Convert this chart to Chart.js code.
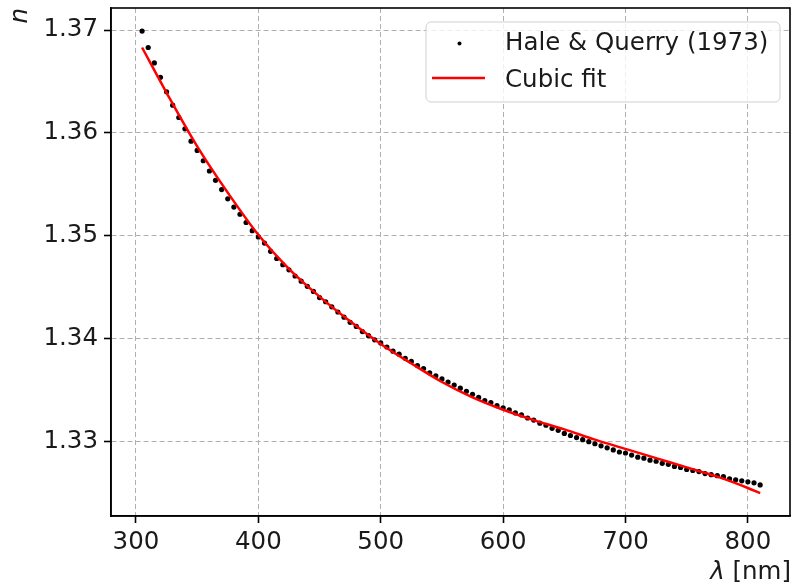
<!DOCTYPE html>
<html>
<head>
<meta charset="utf-8">
<script src="https://cdn.jsdelivr.net/npm/chart.js@4/dist/chart.umd.min.js"></script>
<style>
  html, body { margin: 0; padding: 0; background: #fff; }
  canvas { display: block; }
</style>
</head>
<body>
<canvas id="chart" width="794" height="587"></canvas>
<script>
const wavelengths = [
  305, 310, 315, 320, 325, 330, 335, 340, 345, 350,
  355, 360, 365, 370, 375, 380, 385, 390, 395, 400,
  405, 410, 415, 420, 425, 430, 435, 440, 445, 450,
  455, 460, 465, 470, 475, 480, 485, 490, 495, 500,
  505, 510, 515, 520, 525, 530, 535, 540, 545, 550,
  555, 560, 565, 570, 575, 580, 585, 590, 595, 600,
  605, 610, 615, 620, 625, 630, 635, 640, 645, 650,
  655, 660, 665, 670, 675, 680, 685, 690, 695, 700,
  705, 710, 715, 720, 725, 730, 735, 740, 745, 750,
  755, 760, 765, 770, 775, 780, 785, 790, 795, 800,
  805, 810
];
const measuredIndex = [
  1.3699, 1.3683, 1.3668, 1.3654, 1.3640, 1.3627, 1.3615, 1.3604, 1.3592, 1.3583,
  1.3573, 1.3563, 1.3554, 1.3545, 1.3536, 1.3528, 1.3521, 1.3513, 1.3505, 1.3499,
  1.3493, 1.3485, 1.3478, 1.3472, 1.3467, 1.3461, 1.3456, 1.3451, 1.3446, 1.3440,
  1.3436, 1.3431, 1.3426, 1.3421, 1.3416, 1.3412, 1.3407, 1.3403, 1.3399, 1.3396,
  1.3392, 1.3388, 1.3385, 1.3381, 1.3378, 1.3374, 1.3371, 1.3367, 1.3364, 1.3361,
  1.3358, 1.3355, 1.3352, 1.3349, 1.3346, 1.3343, 1.3340, 1.3338, 1.3335, 1.3333,
  1.3331, 1.3328, 1.3326, 1.3323, 1.3321, 1.3318, 1.3316, 1.3313, 1.3311, 1.3308,
  1.3306, 1.3304, 1.3302, 1.3300, 1.3298, 1.3296, 1.3294, 1.3292, 1.3290, 1.3289,
  1.3287, 1.3285, 1.3284, 1.3282, 1.3281, 1.3279, 1.3278, 1.3276, 1.3275, 1.3273,
  1.3272, 1.3271, 1.3269, 1.3268, 1.3267, 1.3266, 1.3264, 1.3263, 1.3262, 1.3261,
  1.3260, 1.3258
];

// Cubic fit curve, sampled from the figure
const fitWavelengths = [305, 325, 350, 375, 400, 425, 450, 475, 500, 525, 550,
  575, 600, 625, 650, 675, 700, 725, 750, 775, 800, 810];
const fitIndex = [1.3683, 1.3639, 1.3587, 1.3542, 1.3501, 1.3468, 1.3441, 1.3417,
  1.3395, 1.3376, 1.3358, 1.3343, 1.3331, 1.3321, 1.3312, 1.3302, 1.3293, 1.3284,
  1.3275, 1.3266, 1.3255, 1.3250];

const xTicks = [300, 400, 500, 600, 700, 800];
const yTicks = [1.33, 1.34, 1.35, 1.36, 1.37];
const seriesLabels = ['Hale & Querry (1973)', 'Cubic fit'];

const FONT = 'DejaVu Sans';
const FONT_SIZE = 24.5;

// Draws the full frame, the boxed legend and the two axis titles
const decorPlugin = {
    id: 'decor',
    afterDraw(chart) {
        const { ctx, chartArea: a } = chart;
        ctx.save();

        // frame on all four sides
        ctx.strokeStyle = '#000';
        ctx.lineWidth = 1.6;
        ctx.strokeRect(a.left, a.top, a.right - a.left, a.bottom - a.top);

        // legend box
        const bx = 426, by = 22, bw = 354, bh = 80, r = 5;
        ctx.beginPath();
        ctx.roundRect(bx, by, bw, bh, r);
        ctx.fillStyle = 'rgba(255,255,255,0.8)';
        ctx.fill();
        ctx.strokeStyle = '#d0d0d0';
        ctx.lineWidth = 1;
        ctx.stroke();

        const ds = chart.data.datasets;
        ctx.font = `${FONT_SIZE}px "${FONT}"`;
        ctx.textAlign = 'left';
        ctx.textBaseline = 'alphabetic';

        // scatter entry
        ctx.fillStyle = ds[0].backgroundColor;
        ctx.beginPath();
        ctx.arc(459.5, 43.5, 2, 0, Math.PI * 2);
        ctx.fill();
        ctx.fillStyle = '#1a1a1a';
        ctx.fillText(ds[0].label, 505, 50);

        // line entry
        ctx.strokeStyle = ds[1].borderColor;
        ctx.lineWidth = ds[1].borderWidth;
        ctx.beginPath();
        ctx.moveTo(432, 78);
        ctx.lineTo(485, 78);
        ctx.stroke();
        ctx.fillText(ds[1].label, 505, 87);

        // x title: italic lambda + [nm], right aligned to the frame
        const rest = ' [nm]';
        ctx.font = `${FONT_SIZE}px "${FONT}"`;
        const wRest = ctx.measureText(rest).width;
        ctx.textAlign = 'right';
        ctx.fillText(rest, 791, 579);
        ctx.font = `italic ${FONT_SIZE}px "${FONT}"`;
        ctx.fillText('λ', 791 - wRest, 579);

        // y title: italic n, rotated, ending at the top of the frame
        ctx.translate(27, a.top);
        ctx.rotate(-Math.PI / 2);
        ctx.textAlign = 'right';
        ctx.fillText('n', 0, 0);

        ctx.restore();
    }
};

const tickFont = { family: FONT, size: FONT_SIZE };

new Chart(document.getElementById('chart').getContext('2d'), {
    type: 'scatter',
    data: {
        datasets: [
            {
                type: 'scatter',
                label: seriesLabels[0],
                data: wavelengths.map((w, i) => ({ x: w, y: measuredIndex[i] })),
                backgroundColor: '#000000',
                borderWidth: 0,
                pointRadius: 2.6,
                order: 2
            },
            {
                type: 'line',
                label: seriesLabels[1],
                data: fitWavelengths.map((w, i) => ({ x: w, y: fitIndex[i] })),
                borderColor: '#ff0000',
                borderWidth: 2.5,
                pointRadius: 0,
                cubicInterpolationMode: 'monotone',
                fill: false,
                order: 1
            }
        ]
    },
    options: {
        responsive: false,
        animation: false,
        events: [],
        layout: { padding: { top: 8, right: 2, left: 0, bottom: 0 } },
        plugins: {
            legend: { display: false },
            tooltip: { enabled: false }
        },
        scales: {
            x: {
                type: 'linear',
                min: 279.6,
                max: 834.4,
                afterBuildTicks: s => { s.ticks = xTicks.map(v => ({ value: v })); },
                afterFit: s => { s.height = 71; s.paddingLeft = 0; s.paddingRight = 0; },
                ticks: {
                    color: '#1a1a1a',
                    font: tickFont,
                    padding: 5,
                    maxRotation: 0,
                    autoSkip: false,
                    callback: v => String(v)
                },
                grid: { color: '#b0b0b0', lineWidth: 1, tickLength: 7, tickColor: '#000', tickWidth: 1.6 },
                border: { color: '#000', width: 1.6, dash: [5, 3] }
            },
            y: {
                type: 'linear',
                min: 1.32278,
                max: 1.37214,
                afterBuildTicks: s => { s.ticks = yTicks.map(v => ({ value: v })); },
                afterFit: s => { s.width = 111; s.paddingTop = 0; s.paddingBottom = 0; },
                ticks: {
                    color: '#1a1a1a',
                    font: tickFont,
                    padding: 6,
                    autoSkip: false,
                    callback: v => v.toFixed(2)
                },
                grid: { color: '#b0b0b0', lineWidth: 1, tickLength: 7, tickColor: '#000', tickWidth: 1.6 },
                border: { color: '#000', width: 1.6, dash: [5, 3] }
            }
        }
    },
    plugins: [decorPlugin]
});
</script>
</body>
</html>
